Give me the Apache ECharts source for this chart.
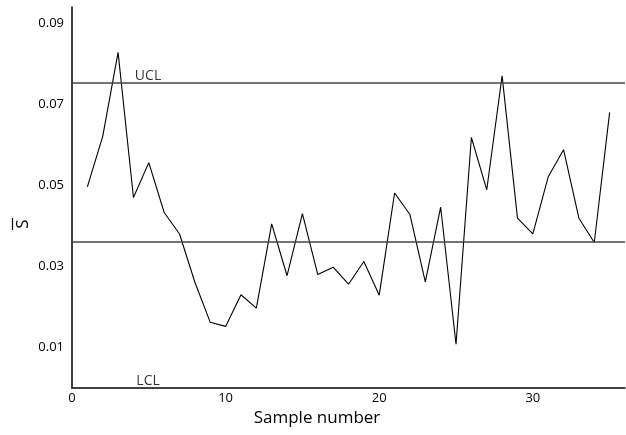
<!DOCTYPE html>
<html>
<head>
<meta charset="utf-8">
<script src="https://cdn.jsdelivr.net/npm/echarts@6/dist/echarts.min.js"></script>
<style>html,body{margin:0;padding:0;background:#fff;}#c{width:626px;height:435px;}</style>
</head>
<body>
<div id="c"></div>
<script>
var sampleNumbers = [1,2,3,4,5,6,7,8,9,10,11,12,13,14,15,16,17,18,19,20,21,22,23,24,25,26,27,28,29,30,31,32,33,34,35];
var sValues = [0.0496,0.0621,0.0828,0.0470,0.0556,0.0433,0.0380,0.0261,0.0162,0.0152,
               0.0230,0.0197,0.0405,0.0277,0.0430,0.0280,0.0298,0.0256,0.0312,0.0229,
               0.0481,0.0428,0.0262,0.0446,0.0108,0.0618,0.0489,0.0770,0.0419,0.0380,
               0.0521,0.0588,0.0419,0.0359,0.0680];
var yTickLabels = [0.01,0.03,0.05,0.07,0.09];
var xTickLabels = [0,10,20,30];
var UCL = 0.0753;
var CL = 0.0360;
var LCL = 0.0;
var controlLabels = [{name:'UCL', x:4.95, y:UCL}, {name:'LCL', x:4.95, y:LCL}];

var FONT = '"Open Sans", "Noto Sans", sans-serif';
var chart = echarts.init(document.getElementById('c'), null, {renderer:'canvas'});
var option = {
  animation:false,
  backgroundColor:'#fff',
  grid:{left:72, right:1, top:7, bottom:47},
  xAxis:{
    type:'value', min:0, max:36,
    axisLine:{show:true, onZero:false, lineStyle:{color:'#000', width:1.5}},
    axisTick:{show:false},
    splitLine:{show:false},
    axisLabel:{customValues:xTickLabels, color:'#000', fontSize:13, fontFamily:FONT, margin:4},
    name:'Sample number', nameLocation:'middle', nameGap:22,
    nameTextStyle:{color:'#000', fontSize:17, fontFamily:FONT, padding:[0,63,0,0]}
  },
  yAxis:{
    type:'value', min:0, max:0.094,
    axisLine:{show:true, lineStyle:{color:'#000', width:1.5}},
    axisTick:{show:false},
    splitLine:{show:false},
    axisLabel:{customValues:yTickLabels, color:'#000', fontSize:13, fontFamily:FONT, margin:8,
      formatter:function(v){return v.toFixed(2);}}
  },
  graphic:[{
    type:'group', x:23, y:224, rotation:Math.PI/2,
    children:[
      {type:'text', style:{text:'S', font:'17px ' + FONT, fill:'#000', align:'center', verticalAlign:'middle'}},
      {type:'line', shape:{x1:-6, y1:-10.5, x2:6, y2:-10.5}, style:{stroke:'#000', lineWidth:1.2}}
    ]
  }],
  series:[
    {
      type:'line',
      data:sampleNumbers.map(function(n,i){return [n, sValues[i]];}),
      symbol:'none',
      lineStyle:{color:'#000', width:1.1},
      z:3,
      markLine:{
        silent:true, symbol:['none','none'], precision:6,
        lineStyle:{color:'#444', width:1.5, type:'solid'},
        label:{show:false},
        emphasis:{disabled:true},
        data:[{yAxis:UCL},{yAxis:CL},{yAxis:LCL}]
      }
    },
    {
      type:'scatter',
      data:controlLabels.map(function(d){return {value:[d.x,d.y], name:d.name};}),
      symbolSize:0,
      label:{show:true, position:'top', distance:0, formatter:'{b}', color:'#000', fontSize:14, fontFamily:FONT},
      silent:true
    }
  ]
};
chart.setOption(option);
</script>
</body>
</html>
